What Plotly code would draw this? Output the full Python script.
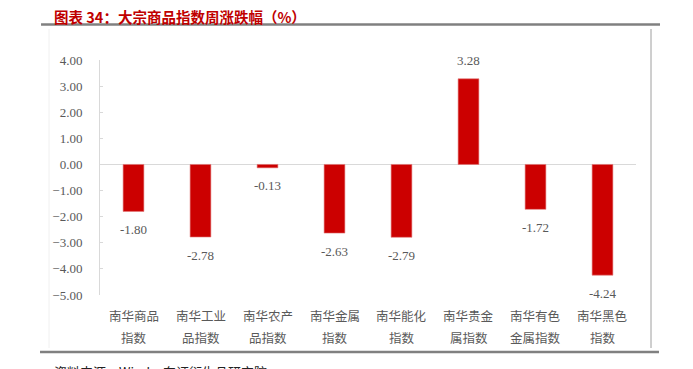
import plotly.graph_objects as go

categories = ["南华商品指数", "南华工业品指数", "南华农产品指数", "南华金属指数",
              "南华能化指数", "南华贵金属指数", "南华有色金属指数", "南华黑色指数"]
label_line1 = ["南华商品", "南华工业", "南华农产", "南华金属", "南华能化", "南华贵金", "南华有色", "南华黑色"]
label_line2 = ["指数", "品指数", "品指数", "指数", "指数", "属指数", "金属指数", "指数"]
values = [-1.80, -2.78, -0.13, -2.63, -2.79, 3.28, -1.72, -4.24]
y_ticks = [4, 3, 2, 1, 0, -1, -2, -3, -4, -5]

title_text = "图表 34：大宗商品指数周涨跌幅（%）"
source_text = "资料来源：Wind，东证衍生品研究院"

RED = "#CC0000"
GRAY = "#595959"
SERIF = "Liberation Serif, Times New Roman, serif"
CJK = "Noto Sans CJK SC, sans-serif"

fig = go.Figure()
fig.add_trace(go.Bar(
    x=categories, y=values,
    marker=dict(color=RED, line=dict(color="#E37A7A", width=0.6)),
    hoverinfo="x+y",
))

annotations = []
# value labels
for c, v in zip(categories, values):
    annotations.append(dict(
        x=c, y=v, xref="x", yref="y", text=f"{v:.2f}", showarrow=False,
        yanchor="middle", yshift=18 if v >= 0 else -18,
        font=dict(family=SERIF, size=13, color=GRAY),
    ))
# category labels (two lines, wider line spacing)
for c, l1, l2 in zip(categories, label_line1, label_line2):
    annotations.append(dict(x=c, y=0, xref="x", yref="paper", text=l1, showarrow=False,
                            yanchor="middle", yshift=-20,
                            font=dict(family=CJK, size=12.5, color=GRAY)))
    annotations.append(dict(x=c, y=0, xref="x", yref="paper", text=l2, showarrow=False,
                            yanchor="middle", yshift=-42,
                            font=dict(family=CJK, size=12.5, color=GRAY)))
# title
annotations.append(dict(x=-0.0896, y=1.185, xref="paper", yref="paper", text=f"<b>{title_text}</b>",
                        showarrow=False, xanchor="left", yanchor="middle",
                        font=dict(family=CJK, size=14.5, color="#C00000")))
# source
annotations.append(dict(x=-0.0896, y=-0.276, xref="paper", yref="paper", text=source_text,
                        showarrow=False, xanchor="left", yanchor="top",
                        font=dict(family=CJK, size=13, color="#222222")))

shapes = [
    dict(type="line", xref="paper", yref="paper", x0=-0.110, x1=1.0448, y0=1.151, y1=1.151,
         line=dict(color="#808080", width=2.5)),
    dict(type="line", xref="paper", yref="paper", x0=-0.1119, x1=1.0429, y0=-0.2426, y1=-0.2426,
         line=dict(color="#808080", width=2.5)),
    dict(type="line", xref="paper", yref="paper", x0=1.028, x1=1.028, y0=1.132, y1=-0.2255,
         line=dict(color="#BFBFBF", width=1.5)),
    dict(type="line", xref="paper", yref="paper", x0=-0.0951, x1=-0.0951, y0=1.132, y1=-0.2255,
         line=dict(color="#F0F0F0", width=1)),
]

# the page body has an 8px margin, so the figure is drawn 8px in from the window edge
fig.update_layout(
    width=685, height=361,
    margin=dict(l=92, r=57, t=52, b=74),
    paper_bgcolor="white", plot_bgcolor="white",
    showlegend=False,
    bargap=0.69,
    annotations=annotations,
    shapes=shapes,
    xaxis=dict(showticklabels=False, showgrid=False, showline=False, ticks="",
               zeroline=False, fixedrange=True),
    yaxis=dict(range=[-5, 4], tickvals=y_ticks, tickformat=".2f",
               showgrid=False, showline=True, linecolor="#D9D9D9", linewidth=1,
               ticks="inside", ticklen=3, tickcolor="#D9D9D9",
               zeroline=True, zerolinecolor="#D9D9D9", zerolinewidth=1,
               ticklabelstandoff=14,
               tickfont=dict(family=SERIF, size=13, color=GRAY)),
)

fig.write_html("out.html")
